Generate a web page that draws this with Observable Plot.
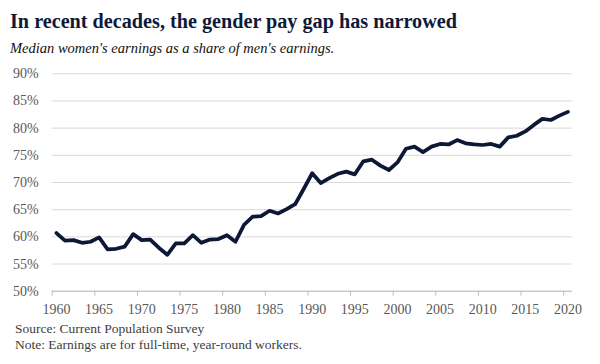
<!DOCTYPE html>
<html>
<head>
<meta charset="utf-8">
<script src="https://cdn.jsdelivr.net/npm/d3@7"></script>
<script src="https://cdn.jsdelivr.net/npm/@observablehq/plot@0.6"></script>
<style>
  html, body { margin: 0; padding: 0; background: #fff; }
  #wrap { position: relative; width: 600px; height: 364px; overflow: hidden; background: #fff; font-family: "Liberation Serif", "Times New Roman", serif; }
  .title { position: absolute; left: 10px; top: 10.5px; font-size: 20.2px; line-height: 20.2px; font-weight: bold; color: #0d1a3a; white-space: nowrap; }
  .sub { position: absolute; left: 10px; top: 40.9px; font-size: 14.5px; line-height: 14.5px; font-style: italic; color: #111; white-space: nowrap; }
  .cap { position: absolute; left: 15px; font-size: 13.5px; line-height: 13.5px; color: #404040; white-space: nowrap; }
  #chart { position: absolute; left: 0; top: 60px; }
</style>
</head>
<body>
<div id="wrap">
  <div class="title">In recent decades, the gender pay gap has narrowed</div>
  <div class="sub">Median women's earnings as a share of men's earnings.</div>
  <div id="chart"></div>
  <div class="cap" style="top:322px">Source: Current Population Survey</div>
  <div class="cap" style="top:337.7px">Note: Earnings are for full-time, year-round workers.</div>
</div>
<script>
const years = [1960,1961,1962,1963,1964,1965,1966,1967,1968,1969,
  1970,1971,1972,1973,1974,1975,1976,1977,1978,1979,
  1980,1981,1982,1983,1984,1985,1986,1987,1988,1989,
  1990,1991,1992,1993,1994,1995,1996,1997,1998,1999,
  2000,2001,2002,2003,2004,2005,2006,2007,2008,2009,
  2010,2011,2012,2013,2014,2015,2016,2017,2018,2019,2020];
const shares = [60.7,59.3,59.4,58.9,59.1,59.9,57.7,57.8,58.2,60.5,
  59.4,59.5,58.0,56.7,58.8,58.8,60.3,58.9,59.5,59.6,
  60.3,59.1,62.2,63.7,63.8,64.8,64.3,65.1,66.0,68.8,
  71.7,69.9,70.8,71.6,72.0,71.5,73.9,74.2,73.1,72.3,
  73.7,76.2,76.6,75.6,76.6,77.1,77.0,77.8,77.2,77.0,
  76.9,77.1,76.6,78.3,78.6,79.4,80.6,81.7,81.5,82.3,83.0];
const yearLabels = [1960,1965,1970,1975,1980,1985,1990,1995,2000,2005,2010,2015,2020];
const tickBounds = [1959.5,1964.5,1969.5,1974.5,1979.5,1984.5,1989.5,1994.5,1999.5,2004.5,2009.5,2014.5,2019.5];
const yTicks = [50,55,60,65,70,75,80,85,90];

const data = years.map((yr, i) => ({year: yr, share: shares[i]}));

const chart = Plot.plot({
  width: 600,
  height: 265,
  marginLeft: 51.7,
  marginRight: 28.3,
  marginTop: 13.3,
  marginBottom: 34.3,
  x: {domain: [1959.5, 2020.5], label: null},
  y: {domain: [50, 90], label: null},
  style: {fontFamily: '"Liberation Serif", "Times New Roman", serif', fontSize: "14px", color: "#595959", background: "white", overflow: "visible"},
  marks: [
    Plot.gridY(yTicks, {stroke: "#d9d9d9", strokeOpacity: 1, strokeWidth: 1}),
    Plot.ruleY([50], {stroke: "#bfbfbf", strokeWidth: 1}),
    Plot.axisY(yTicks, {tickSize: 0, tickPadding: 13.5, tickFormat: d => d + "%", fontSize: 14, label: null}),
    Plot.axisX(tickBounds, {tickSize: 5, tickFormat: () => "", stroke: "#bfbfbf", label: null}),
    Plot.axisX(yearLabels, {tickSize: 0, tickPadding: 12.7, tickFormat: d => String(d), fontSize: 14, label: null}),
    Plot.line(data, {x: "year", y: "share", stroke: "#0c1836", strokeWidth: 3.75, strokeLinejoin: "round", strokeLinecap: "round"})
  ]
});
document.getElementById("chart").appendChild(chart);
</script>
</body>
</html>
